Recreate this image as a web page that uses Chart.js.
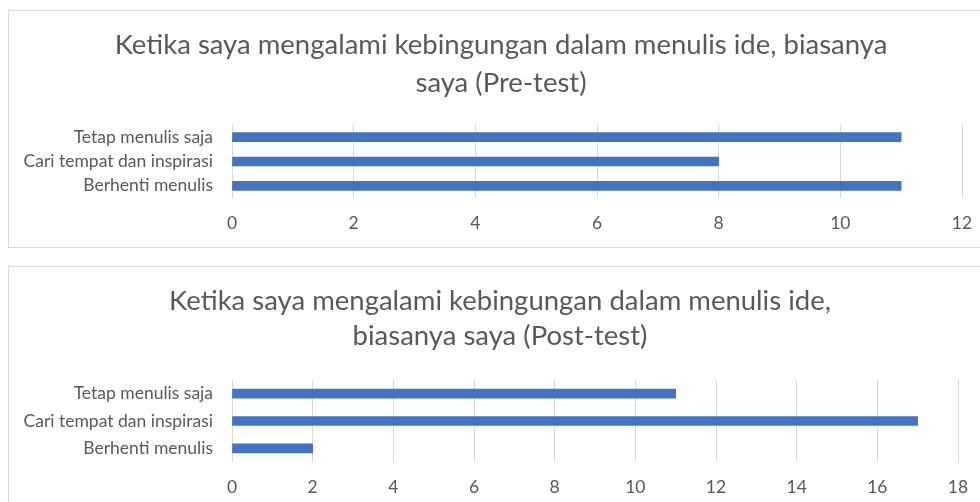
<!DOCTYPE html>
<html>
<head>
<meta charset="utf-8">
<script src="https://cdn.jsdelivr.net/npm/chart.js@4.4.1/dist/chart.umd.min.js"></script>
<style>
  html, body { margin: 0; padding: 0; background: #fff; overflow: hidden; width: 980px; height: 502px; }
  .box { position: absolute; left: 8px; border: 1px solid #d9d9d9; background: #fff; }
  .box canvas { display: block; }
</style>
</head>
<body>
<div class="box" id="boxPre" style="top:10px;width:984px;height:236px;"><canvas id="pre"></canvas></div>
<div class="box" id="boxPost" style="top:266px;width:982px;height:250px;"><canvas id="post"></canvas></div>
<script>
// data
const categories = ['Tetap menulis saja', 'Cari tempat dan inspirasi', 'Berhenti menulis'];
const preValues = [11, 8, 11];
const postValues = [11, 17, 2];
const preTitle = ['Ketika saya mengalami kebingungan dalam menulis ide, biasanya', 'saya (Pre-test)'];
const postTitle = ['Ketika saya mengalami kebingungan dalam menulis ide,', 'biasanya saya (Post-test)'];
const preMax = 12;
const postMax = 18;
const tickStep = 2;

const FONT = 'Lato, "Open Sans", sans-serif';
const TEXT = '#595959';
const TITLE_SIZE = 27.5;
const AXIS_SIZE = 17.5;

// one horizontal bar chart
function makeChart(id, values, title, max, lay) {
  const ctx = document.getElementById(id);
  return new Chart(ctx, {
    type: 'bar',
    data: {
      labels: categories,
      datasets: [{
        data: values,
        backgroundColor: '#4472C4',
        borderWidth: 0,
        barThickness: 9
      }]
    },
    options: {
      indexAxis: 'y',
      responsive: true,
      maintainAspectRatio: false,
      animation: false,
      layout: { padding: { left: 0, right: 0, top: 0, bottom: lay.bottom } },
      plugins: {
        legend: { display: false },
        tooltip: { enabled: false },
        title: {
          display: true,
          text: title,
          color: TEXT,
          font: { family: FONT, size: TITLE_SIZE, weight: 'normal', lineHeight: lay.lh / TITLE_SIZE },
          padding: { top: lay.tTop, bottom: lay.tBottom }
        }
      },
      scales: {
        x: {
          min: 0,
          max: max,
          ticks: { stepSize: tickStep, color: TEXT, font: { family: FONT, size: AXIS_SIZE }, padding: 14.5 },
          grid: { color: '#d9d9d9', drawTicks: false },
          border: { display: false },
          afterFit: (scale) => { scale.height = 45; }
        },
        y: {
          ticks: { color: TEXT, font: { family: FONT, size: AXIS_SIZE }, padding: 19, autoSkip: false },
          grid: { display: false, drawTicks: false },
          border: { display: false },
          afterFit: (scale) => { scale.width = 223; }
        },
        // empty right-hand spacer so the plot ends where the reference's does
        gap: {
          type: 'linear',
          position: 'right',
          ticks: { display: false },
          grid: { display: false },
          border: { display: false },
          afterFit: (scale) => { scale.width = lay.gap; }
        }
      }
    }
  });
}

makeChart('pre', preValues, preTitle, preMax,
  { bottom: 4, lh: 38, tTop: 15, tBottom: 23, gap: 31 });
makeChart('post', postValues, postTitle, postMax,
  { bottom: 10, lh: 35.5, tTop: 16, tBottom: 26, gap: 33 });
</script>
</body>
</html>
